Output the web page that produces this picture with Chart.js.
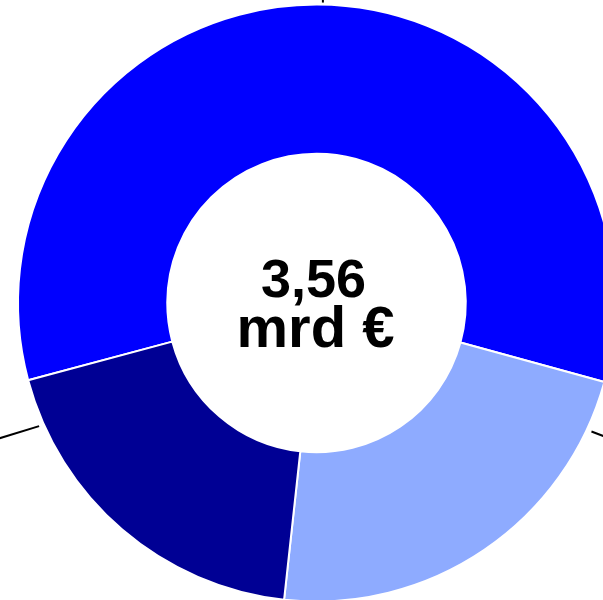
<!DOCTYPE html>
<html>
<head>
<meta charset="utf-8">
<script src="https://cdn.jsdelivr.net/npm/chart.js@4"></script>
<style>
    html, body { margin: 0; padding: 0; overflow: hidden; background: #fff; }
    #wrap { position: absolute; left: 0; top: 0; width: 633px; height: 606px; }
</style>
</head>
<body>
<div id="wrap"><canvas id="myChart"></canvas></div>
<script>
const labels = ['Osa 1', 'Osa 2', 'Osa 3'];
const values = [2.08, 0.80, 0.68];
const colors = ['#0000ff', '#8eabff', '#000094'];
const centerLines = ['3,56', 'mrd €'];

// where the cut-off leader lines leave each slice (fraction along the slice)
const leaderAt = [0.505, 0.12, 0.87];
const leaderDir = [-90, 21, 163];
const leaderGap = [2, 5, 5];

const centerText = {
    id: 'centerText',
    afterDatasetsDraw(chart) {
        const ctx = chart.ctx;
        const arcs = chart.getDatasetMeta(0).data;
        const cx = arcs[0].x;
        const cy = arcs[0].y;

        ctx.save();
        ctx.strokeStyle = '#000';
        ctx.lineWidth = 2;
        arcs.forEach((arc, i) => {
            const a = arc.startAngle + leaderAt[i] * (arc.endAngle - arc.startAngle);
            const r = arc.outerRadius + leaderGap[i];
            const x0 = cx + r * Math.cos(a);
            const y0 = cy + r * Math.sin(a);
            const d = leaderDir[i] * Math.PI / 180;
            ctx.beginPath();
            ctx.moveTo(x0, y0);
            ctx.lineTo(x0 + 80 * Math.cos(d), y0 + 80 * Math.sin(d));
            ctx.stroke();
        });

        ctx.fillStyle = '#000';
        ctx.textAlign = 'center';
        ctx.textBaseline = 'alphabetic';
        ctx.font = 'bold 54px "Liberation Sans", Arial, sans-serif';
        ctx.fillText(centerLines[0], cx - 3, cy - 6);
        ctx.font = 'bold 58px "Liberation Sans", Arial, sans-serif';
        ctx.fillText(centerLines[1], cx - 1, cy + 44);
        ctx.restore();
    }
};

const ctx = document.getElementById('myChart').getContext('2d');
new Chart(ctx, {
    type: 'doughnut',
    data: {
        labels: labels,
        datasets: [{
            data: values,
            backgroundColor: colors,
            borderColor: '#fff',
            borderWidth: 2
        }]
    },
    options: {
        responsive: true,
        maintainAspectRatio: false,
        animation: false,
        rotation: -105,
        cutout: '50%',
        layout: { padding: 3.5 },
        plugins: {
            legend: { display: false },
            tooltip: { enabled: false }
        }
    },
    plugins: [centerText]
});
</script>
</body>
</html>
